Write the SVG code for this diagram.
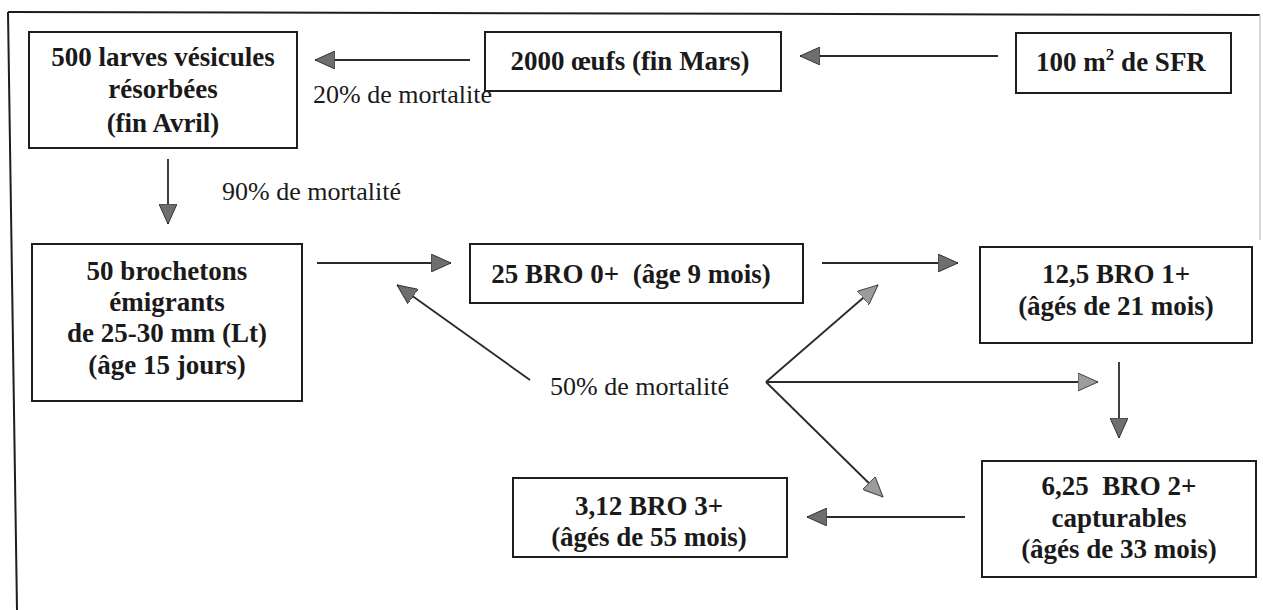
<svg xmlns="http://www.w3.org/2000/svg" width="1263" height="610" viewBox="0 0 1263 610">
<style>
.box{fill:#fff;stroke:#1e1e1e;stroke-width:2}
.b{font-family:'Liberation Serif','Times New Roman',Times,'DejaVu Serif',serif;font-weight:bold;font-size:27px;fill:#1a1a1a;text-anchor:middle}
.r{font-family:'Liberation Serif','Times New Roman',Times,'DejaVu Serif',serif;font-size:26px;fill:#1a1a1a}
.ln{stroke:#2a2a2a;stroke-width:1.8;fill:none}
.frame{stroke:#1e1e1e;stroke-width:2;fill:none}
</style>
<defs>
<marker id="ad" viewBox="0 0 20 18" refX="20" refY="9" markerWidth="20" markerHeight="18" markerUnits="userSpaceOnUse" orient="auto">
<path d="M0,0 L20,9 L0,18 Z" fill="#6e6e6e" stroke="#333" stroke-width="1"/>
</marker>
<marker id="al" viewBox="0 0 20 18" refX="20" refY="9" markerWidth="20" markerHeight="18" markerUnits="userSpaceOnUse" orient="auto">
<path d="M0,0 L20,9 L0,18 Z" fill="#9c9c9c" stroke="#444" stroke-width="1"/>
</marker>
</defs>
<rect width="1263" height="610" fill="#fff"/>
<g id="frame">
<line class="frame" x1="8" y1="12" x2="1260" y2="15"/>
<line class="frame" x1="8" y1="12" x2="17" y2="610"/>
<line x1="1260" y1="15" x2="1260" y2="240" stroke="#c8c8c8" stroke-width="1.5"/>
</g>
<g id="connectors">
<line class="ln" x1="470" y1="60" x2="315" y2="60" marker-end="url(#ad)"/>
<line class="ln" x1="998" y1="56" x2="800" y2="56" marker-end="url(#ad)"/>
<line class="ln" x1="168" y1="159" x2="168" y2="224" marker-end="url(#ad)"/>
<line class="ln" x1="317" y1="263" x2="451" y2="263" marker-end="url(#ad)"/>
<line class="ln" x1="530" y1="380" x2="397" y2="285" marker-end="url(#ad)"/>
<line class="ln" x1="822" y1="263" x2="958" y2="263" marker-end="url(#ad)"/>
<line class="ln" x1="766" y1="382" x2="878" y2="285" marker-end="url(#al)"/>
<line class="ln" x1="766" y1="382" x2="1098" y2="382" marker-end="url(#al)"/>
<line class="ln" x1="766" y1="382" x2="883" y2="497" marker-end="url(#al)"/>
<line class="ln" x1="1119" y1="362" x2="1119" y2="438" marker-end="url(#ad)"/>
<line class="ln" x1="965" y1="517" x2="807" y2="517" marker-end="url(#ad)"/>
</g>
<g id="labels">
<text class="r" x="313" y="103">20% de mortalité</text>
<text class="r" x="222" y="200">90% de mortalité</text>
<text class="r" x="550" y="395">50% de mortalité</text>
</g>
<g id="n-larves">
<rect class="box" x="29" y="32" width="268" height="116"/>
<text class="b" x="163" y="66">500 larves vésicules</text>
<text class="b" x="163" y="98">résorbées</text>
<text class="b" x="163" y="132">(fin Avril)</text>
</g>
<g id="n-oeufs">
<rect class="box" x="485" y="32" width="296" height="59"/>
<text class="b" x="630" y="70">2000 œufs (fin Mars)</text>
</g>
<g id="n-sfr">
<rect class="box" x="1016" y="33" width="215" height="60"/>
<text class="b" x="1121" y="71">100 m<tspan dy="-11" font-size="17">2</tspan><tspan dy="11"> de SFR</tspan></text>
</g>
<g id="n-brochetons">
<rect class="box" x="32" y="244" width="270" height="157"/>
<text class="b" x="167" y="280">50 brochetons</text>
<text class="b" x="167" y="311">émigrants</text>
<text class="b" x="167" y="342">de 25-30 mm (Lt)</text>
<text class="b" x="167" y="374">(âge 15 jours)</text>
</g>
<g id="n-bro0">
<rect class="box" x="470" y="244" width="333" height="59"/>
<text class="b" x="631" y="283" xml:space="preserve">25 BRO 0+  (âge 9 mois)</text>
</g>
<g id="n-bro1">
<rect class="box" x="980" y="247" width="272" height="96"/>
<text class="b" x="1116" y="283">12,5 BRO 1+</text>
<text class="b" x="1116" y="315">(âgés de 21 mois)</text>
</g>
<g id="n-bro2">
<rect class="box" x="982" y="461" width="274" height="116"/>
<text class="b" x="1119" y="495" xml:space="preserve">6,25  BRO 2+</text>
<text class="b" x="1119" y="527">capturables</text>
<text class="b" x="1119" y="558">(âgés de 33 mois)</text>
</g>
<g id="n-bro3">
<rect class="box" x="513" y="478" width="274" height="79"/>
<text class="b" x="649" y="515">3,12 BRO 3+</text>
<text class="b" x="649" y="546">(âgés de 55 mois)</text>
</g>
</svg>
